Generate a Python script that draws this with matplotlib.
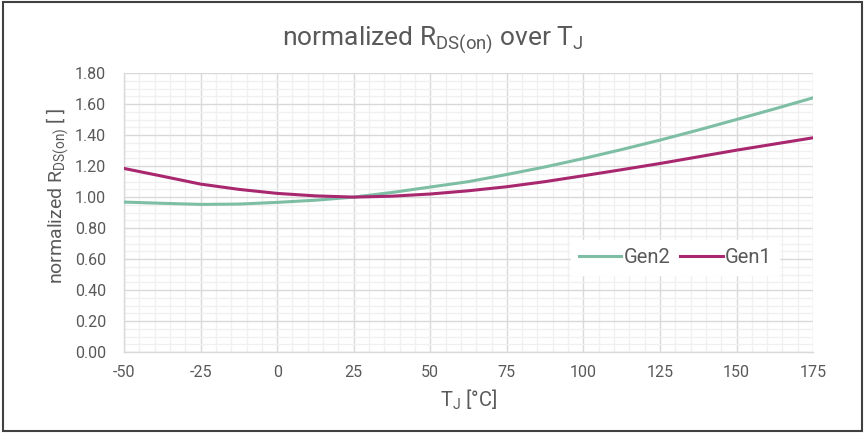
import numpy as np
import matplotlib
matplotlib.use("Agg")
import matplotlib.pyplot as plt
from matplotlib.ticker import MultipleLocator, FormatStrFormatter
from matplotlib.patches import Rectangle

plt.rcParams['font.family'] = ['Roboto', 'DejaVu Sans']
plt.rcParams['mathtext.fontset'] = 'custom'
plt.rcParams['mathtext.rm'] = 'Roboto'
plt.rcParams['mathtext.it'] = 'Roboto'
plt.rcParams['axes.unicode_minus'] = False

# junction temperature [°C]
tj = [-50, -37.5, -25, -12.5, 0, 12.5, 25, 37.5, 50, 62.5, 75, 87.5,
      100, 112.5, 125, 137.5, 150, 162.5, 175]
# normalized RDS(on)
gen2 = [0.968, 0.960, 0.953, 0.955, 0.966, 0.980, 1.000, 1.030, 1.065, 1.100,
        1.146, 1.195, 1.249, 1.307, 1.368, 1.433, 1.501, 1.570, 1.641]
gen1 = [1.185, 1.135, 1.084, 1.050, 1.024, 1.008, 1.000, 1.006, 1.020, 1.041,
        1.067, 1.100, 1.138, 1.177, 1.217, 1.260, 1.303, 1.343, 1.383]

txt = '#595959'
grid_major = '#d9d9d9'
grid_minor = '#f0f0f0'

fig = plt.figure(figsize=(8.65, 4.33), dpi=100)
fig.patches.append(Rectangle((0.003, 0.005), 0.994, 0.99, transform=fig.transFigure,
                             fill=False, edgecolor='#404040', linewidth=1.5))

ax = fig.add_axes([0.1434, 0.187, 0.7966, 0.644])

ax.plot(tj, gen2, color='#7dbea5', linewidth=2.2, label='Gen2', zorder=3)
ax.plot(tj, gen1, color='#a8276f', linewidth=2.2, label='Gen1', zorder=3)

ax.set_xlim(-50, 175)
ax.set_ylim(0, 1.8)
ax.xaxis.set_major_locator(MultipleLocator(25))
ax.xaxis.set_minor_locator(MultipleLocator(5))
ax.yaxis.set_major_locator(MultipleLocator(0.2))
ax.yaxis.set_minor_locator(MultipleLocator(0.05))
ax.yaxis.set_major_formatter(FormatStrFormatter('%.2f'))

ax.grid(which='major', color=grid_major, linewidth=1.0, zorder=1)
ax.grid(which='minor', color=grid_minor, linewidth=1.0, zorder=0)
ax.set_axisbelow(True)

for s in ['top', 'right']:
    ax.spines[s].set_visible(False)
for s in ['left', 'bottom']:
    ax.spines[s].set_color(grid_major)
    ax.spines[s].set_linewidth(1.0)

ax.tick_params(which='both', length=0, colors=txt, labelsize=11.5)
ax.tick_params(axis='y', pad=13)
ax.tick_params(axis='x', pad=9)

# title is centred on the whole chart, not on the plot area
fig.text(0.5, 0.894, r'normalized R$_{\mathrm{DS(on)}}$ over T$_{\mathrm{J}}$',
         color=txt, fontsize=19, ha='center', va='baseline')
ax.set_xlabel(r'T$_{\mathrm{J}}$ [°C]', color=txt, fontsize=14.5, labelpad=6)
ax.set_ylabel(r'normalized R$_{\mathrm{DS(on)}}$ [ ]', color=txt, fontsize=14)
ax.yaxis.set_label_coords(-0.077, 0.56)

leg = ax.legend(loc='center', bbox_to_anchor=(0.80, 0.34), ncol=2, frameon=True,
                fontsize=14.5, handlelength=2.1, handletextpad=0.1, columnspacing=0.5,
                borderpad=0.4, fancybox=False)
leg.get_frame().set_edgecolor('white')
leg.get_frame().set_facecolor('white')
leg.get_frame().set_alpha(1)
for t in leg.get_texts():
    t.set_color(txt)

fig.savefig('out.png', dpi=100)
